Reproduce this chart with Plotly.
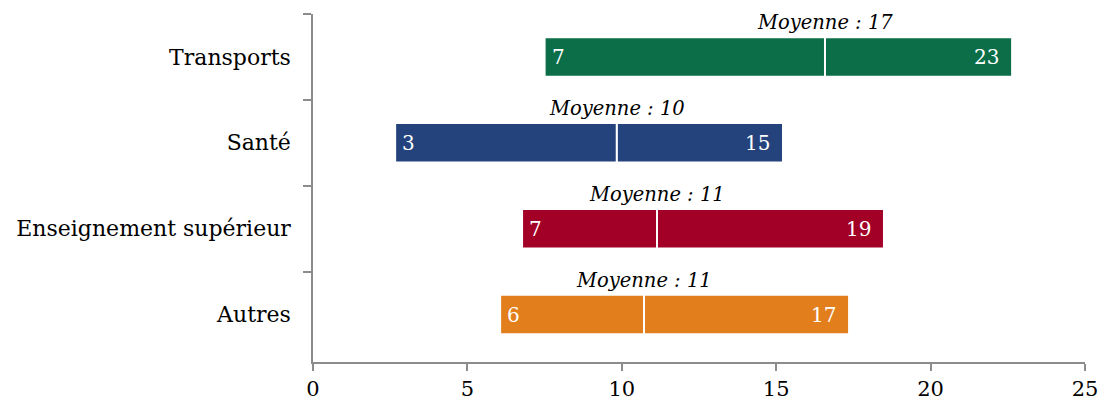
import plotly.graph_objects as go

categories = ["Transports", "Santé", "Enseignement supérieur", "Autres"]
min_vals = [7.5, 2.66, 6.77, 6.06]
mean_vals = [16.58, 9.84, 11.14, 10.72]
max_vals = [22.64, 15.22, 18.49, 17.36]
min_labels = ["7", "3", "7", "6"]
mean_labels = ["17", "10", "11", "11"]
max_labels = ["23", "15", "19", "17"]
colors = ["#0B6E48", "#24437C", "#A30028", "#E27E1C"]

FONT = "DejaVu Serif"

fig = go.Figure()
fig.add_trace(go.Bar(
    y=categories, x=[m - a for a, m in zip(min_vals, mean_vals)], base=min_vals,
    orientation="h", width=0.46,
    marker=dict(color=colors, line=dict(color="white", width=2)),
    hoverinfo="skip",
))
fig.add_trace(go.Bar(
    y=categories, x=[b - m for m, b in zip(mean_vals, max_vals)], base=mean_vals,
    orientation="h", width=0.46,
    marker=dict(color=colors, line=dict(color="white", width=2)),
    hoverinfo="skip",
))

for c, a, m, b, la, lm, lb in zip(categories, min_vals, mean_vals, max_vals,
                                   min_labels, mean_labels, max_labels):
    fig.add_annotation(x=m, y=c, text=f"<i>Moyenne : {lm}</i>", showarrow=False,
                       yshift=34, font=dict(size=19.5, family=FONT, color="black"))
    fig.add_annotation(x=a, y=c, text=la, showarrow=False, xanchor="left",
                       xshift=5, font=dict(size=20, family=FONT, color="white"))
    fig.add_annotation(x=b, y=c, text=lb, showarrow=False, xanchor="right",
                       xshift=-11, font=dict(size=20, family=FONT, color="white"))

fig.update_layout(
    width=1100, height=407, barmode="overlay", showlegend=False,
    plot_bgcolor="white", paper_bgcolor="white",
    margin=dict(l=313, r=15, t=14, b=45),
    font=dict(family=FONT, size=21, color="black"),
)
fig.update_xaxes(range=[0, 25], dtick=5, showgrid=False, zeroline=False,
                 showline=True, linecolor="#8c8c8c", linewidth=1.5,
                 ticks="outside", ticklen=7, tickcolor="#8c8c8c", tickwidth=1.5,
                 automargin=False,
                 tickfont=dict(size=21, family=FONT))
fig.update_yaxes(categoryorder="array", categoryarray=categories, autorange="reversed",
                 showgrid=False, showline=True, linecolor="#8c8c8c", linewidth=1.5,
                 ticks="outside", ticklen=8, tickcolor="#8c8c8c", tickwidth=1.5,
                 tickson="boundaries", ticklabelstandoff=16, automargin=False,
                 tickfont=dict(size=22, family=FONT))

fig.write_html("out.html", config={"displayModeBar": False},
               post_script="document.body.style.margin='0';document.body.style.overflow='hidden';")
